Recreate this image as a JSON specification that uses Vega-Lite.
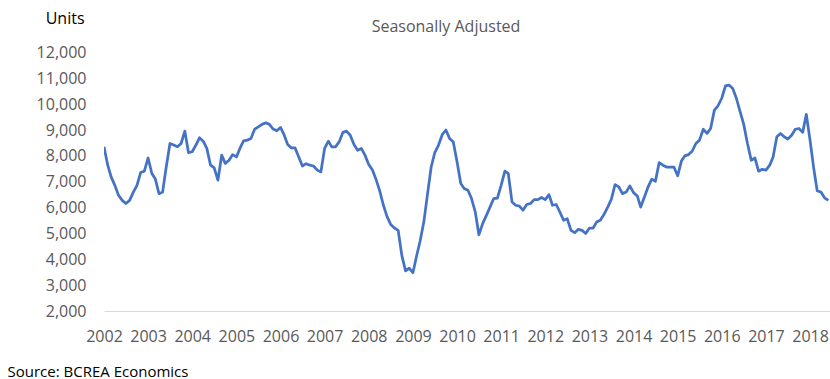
{
  "$schema": "https://vega.github.io/schema/vega-lite/v6.json",
  "autosize": "none",
  "width": 726,
  "height": 258.5,
  "padding": {"left": 104, "top": 52.5, "right": 0, "bottom": 68},
  "background": "white",
  "config": {"view": {"stroke": null}, "font": "Open Sans"},
  "title": {"text": "Seasonally Adjusted", "font": "Open Sans", "fontSize": 16, "fontWeight": "normal", "color": "#595959", "anchor": "middle", "dx": -21, "offset": 0, "dy": 25},
  "data": {"values": [
    {"date":"2002-01-01","units":8350},{"date":"2002-02-01","units":7640},{"date":"2002-03-01","units":7190},{"date":"2002-04-01","units":6860},{"date":"2002-05-01","units":6480},{"date":"2002-06-01","units":6280},{"date":"2002-07-01","units":6160},{"date":"2002-08-01","units":6280},{"date":"2002-09-01","units":6600},{"date":"2002-10-01","units":6860},{"date":"2002-11-01","units":7360},{"date":"2002-12-01","units":7410},
    {"date":"2003-01-01","units":7920},{"date":"2003-02-01","units":7320},{"date":"2003-03-01","units":7120},{"date":"2003-04-01","units":6540},{"date":"2003-05-01","units":6600},{"date":"2003-06-01","units":7600},{"date":"2003-07-01","units":8480},{"date":"2003-08-01","units":8420},{"date":"2003-09-01","units":8350},{"date":"2003-10-01","units":8480},{"date":"2003-11-01","units":8960},{"date":"2003-12-01","units":8130},
    {"date":"2004-01-01","units":8160},{"date":"2004-02-01","units":8420},{"date":"2004-03-01","units":8700},{"date":"2004-04-01","units":8570},{"date":"2004-05-01","units":8290},{"date":"2004-06-01","units":7640},{"date":"2004-07-01","units":7540},{"date":"2004-08-01","units":7060},{"date":"2004-09-01","units":8030},{"date":"2004-10-01","units":7710},{"date":"2004-11-01","units":7830},{"date":"2004-12-01","units":8050},
    {"date":"2005-01-01","units":7960},{"date":"2005-02-01","units":8310},{"date":"2005-03-01","units":8580},{"date":"2005-04-01","units":8610},{"date":"2005-05-01","units":8670},{"date":"2005-06-01","units":9030},{"date":"2005-07-01","units":9120},{"date":"2005-08-01","units":9220},{"date":"2005-09-01","units":9280},{"date":"2005-10-01","units":9220},{"date":"2005-11-01","units":9040},{"date":"2005-12-01","units":8970},
    {"date":"2006-01-01","units":9100},{"date":"2006-02-01","units":8800},{"date":"2006-03-01","units":8440},{"date":"2006-04-01","units":8310},{"date":"2006-05-01","units":8310},{"date":"2006-06-01","units":7960},{"date":"2006-07-01","units":7610},{"date":"2006-08-01","units":7700},{"date":"2006-09-01","units":7640},{"date":"2006-10-01","units":7610},{"date":"2006-11-01","units":7450},{"date":"2006-12-01","units":7380},
    {"date":"2007-01-01","units":8290},{"date":"2007-02-01","units":8570},{"date":"2007-03-01","units":8350},{"date":"2007-04-01","units":8350},{"date":"2007-05-01","units":8540},{"date":"2007-06-01","units":8910},{"date":"2007-07-01","units":8960},{"date":"2007-08-01","units":8800},{"date":"2007-09-01","units":8440},{"date":"2007-10-01","units":8220},{"date":"2007-11-01","units":8290},{"date":"2007-12-01","units":8030},
    {"date":"2008-01-01","units":7670},{"date":"2008-02-01","units":7450},{"date":"2008-03-01","units":7100},{"date":"2008-04-01","units":6650},{"date":"2008-05-01","units":6100},{"date":"2008-06-01","units":5650},{"date":"2008-07-01","units":5350},{"date":"2008-08-01","units":5210},{"date":"2008-09-01","units":5120},{"date":"2008-10-01","units":4150},{"date":"2008-11-01","units":3550},{"date":"2008-12-01","units":3660},
    {"date":"2009-01-01","units":3480},{"date":"2009-02-01","units":4150},{"date":"2009-03-01","units":4700},{"date":"2009-04-01","units":5440},{"date":"2009-05-01","units":6500},{"date":"2009-06-01","units":7570},{"date":"2009-07-01","units":8130},{"date":"2009-08-01","units":8420},{"date":"2009-09-01","units":8830},{"date":"2009-10-01","units":9000},{"date":"2009-11-01","units":8670},{"date":"2009-12-01","units":8540},
    {"date":"2010-01-01","units":7770},{"date":"2010-02-01","units":6930},{"date":"2010-03-01","units":6740},{"date":"2010-04-01","units":6670},{"date":"2010-05-01","units":6350},{"date":"2010-06-01","units":5830},{"date":"2010-07-01","units":4950},{"date":"2010-08-01","units":5380},{"date":"2010-09-01","units":5700},{"date":"2010-10-01","units":6020},{"date":"2010-11-01","units":6350},{"date":"2010-12-01","units":6370},
    {"date":"2011-01-01","units":6860},{"date":"2011-02-01","units":7410},{"date":"2011-03-01","units":7320},{"date":"2011-04-01","units":6220},{"date":"2011-05-01","units":6090},{"date":"2011-06-01","units":6060},{"date":"2011-07-01","units":5900},{"date":"2011-08-01","units":6120},{"date":"2011-09-01","units":6160},{"date":"2011-10-01","units":6310},{"date":"2011-11-01","units":6310},{"date":"2011-12-01","units":6390},
    {"date":"2012-01-01","units":6310},{"date":"2012-02-01","units":6500},{"date":"2012-03-01","units":6090},{"date":"2012-04-01","units":6120},{"date":"2012-05-01","units":5830},{"date":"2012-06-01","units":5510},{"date":"2012-07-01","units":5570},{"date":"2012-08-01","units":5120},{"date":"2012-09-01","units":5030},{"date":"2012-10-01","units":5160},{"date":"2012-11-01","units":5120},{"date":"2012-12-01","units":5000},
    {"date":"2013-01-01","units":5210},{"date":"2013-02-01","units":5210},{"date":"2013-03-01","units":5440},{"date":"2013-04-01","units":5510},{"date":"2013-05-01","units":5730},{"date":"2013-06-01","units":6020},{"date":"2013-07-01","units":6320},{"date":"2013-08-01","units":6890},{"date":"2013-09-01","units":6800},{"date":"2013-10-01","units":6540},{"date":"2013-11-01","units":6600},{"date":"2013-12-01","units":6840},
    {"date":"2014-01-01","units":6580},{"date":"2014-02-01","units":6450},{"date":"2014-03-01","units":6020},{"date":"2014-04-01","units":6410},{"date":"2014-05-01","units":6800},{"date":"2014-06-01","units":7100},{"date":"2014-07-01","units":7020},{"date":"2014-08-01","units":7740},{"date":"2014-09-01","units":7640},{"date":"2014-10-01","units":7570},{"date":"2014-11-01","units":7570},{"date":"2014-12-01","units":7570},
    {"date":"2015-01-01","units":7230},{"date":"2015-02-01","units":7800},{"date":"2015-03-01","units":8000},{"date":"2015-04-01","units":8050},{"date":"2015-05-01","units":8180},{"date":"2015-06-01","units":8480},{"date":"2015-07-01","units":8610},{"date":"2015-08-01","units":9030},{"date":"2015-09-01","units":8870},{"date":"2015-10-01","units":9060},{"date":"2015-11-01","units":9770},{"date":"2015-12-01","units":9940},
    {"date":"2016-01-01","units":10230},{"date":"2016-02-01","units":10710},{"date":"2016-03-01","units":10740},{"date":"2016-04-01","units":10610},{"date":"2016-05-01","units":10230},{"date":"2016-06-01","units":9710},{"date":"2016-07-01","units":9220},{"date":"2016-08-01","units":8480},{"date":"2016-09-01","units":7830},{"date":"2016-10-01","units":7920},{"date":"2016-11-01","units":7410},{"date":"2016-12-01","units":7480},
    {"date":"2017-01-01","units":7450},{"date":"2017-02-01","units":7640},{"date":"2017-03-01","units":7960},{"date":"2017-04-01","units":8740},{"date":"2017-05-01","units":8870},{"date":"2017-06-01","units":8740},{"date":"2017-07-01","units":8650},{"date":"2017-08-01","units":8800},{"date":"2017-09-01","units":9030},{"date":"2017-10-01","units":9060},{"date":"2017-11-01","units":8910},{"date":"2017-12-01","units":9610},
    {"date":"2018-01-01","units":8600},{"date":"2018-02-01","units":7500},{"date":"2018-03-01","units":6650},{"date":"2018-04-01","units":6600},{"date":"2018-05-01","units":6380},{"date":"2018-06-01","units":6280}
  ]},
  "mark": {"type": "line", "color": "#4472C4", "strokeWidth": 2.75, "strokeJoin": "round", "clip": true},
  "encoding": {
    "x": {
      "field": "date", "type": "temporal",
      "scale": {"type": "utc", "domain": ["2002-01-01", "2018-06-15"], "nice": false},
      "axis": {
        "title": "Source: BCREA Economics",
        "titleFont": "Open Sans", "titleFontSize": 15, "titleFontWeight": "normal", "titleColor": "#000000",
        "titleAlign": "left", "titleBaseline": "middle", "titleX": -97, "titleY": 60, "titleAnchor": "start",
        "format": "%Y", "formatType": "utc",
        "tickCount": {"interval": "year", "step": 1},
        "ticks": false, "grid": false,
        "domain": true, "domainColor": "#d9d9d9", "domainWidth": 1,
        "labelFont": "Open Sans", "labelFontSize": 16, "labelColor": "#595959",
        "labelPadding": 17, "labelBaseline": "top", "labelAlign": "center",
        "labelOverlap": false, "labelFlush": false
      }
    },
    "y": {
      "field": "units", "type": "quantitative",
      "scale": {"domain": [2000, 12000], "nice": false, "zero": false},
      "axis": {
        "title": "Units",
        "titleFont": "Open Sans", "titleFontSize": 16, "titleFontWeight": "normal", "titleColor": "#000000",
        "titleAngle": 0, "titleAlign": "right", "titleBaseline": "middle", "titleX": -20, "titleY": -34.5,
        "values": [2000, 3000, 4000, 5000, 6000, 7000, 8000, 9000, 10000, 11000, 12000],
        "format": ",.0f",
        "ticks": false, "grid": false, "domain": false,
        "labelFont": "Open Sans", "labelFontSize": 16, "labelColor": "#595959",
        "labelPadding": 18, "labelBaseline": "middle"
      }
    }
  }
}
